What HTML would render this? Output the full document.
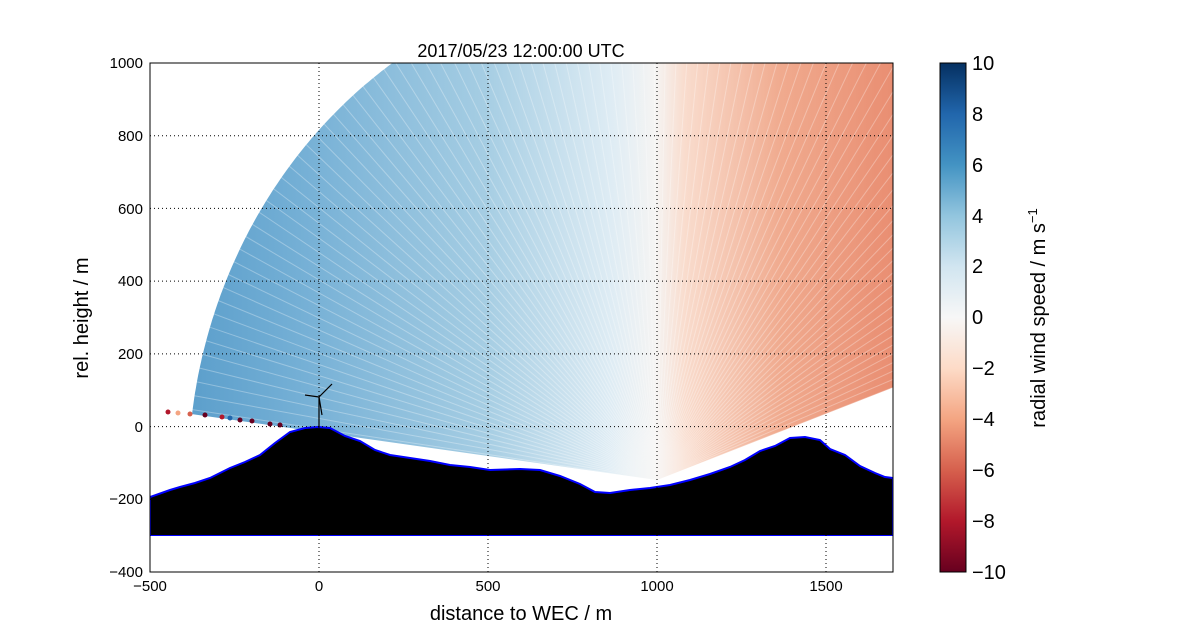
<!DOCTYPE html>
<html><head><meta charset="utf-8"><style>
body{margin:0;background:#fff;}
svg{display:block;font-family:"Liberation Sans",sans-serif;}
</style></head><body>
<svg id="s" width="1200" height="636" viewBox="0 0 1200 636" xmlns="http://www.w3.org/2000/svg">
<defs>
<clipPath id="pc"><rect x="150" y="63" width="743" height="509"/></clipPath>
<linearGradient id="fan" gradientUnits="userSpaceOnUse" x1="150" y1="0" x2="893" y2="0">
<stop offset="0" stop-color="#5399c8"/>
<stop offset="0.2" stop-color="#74afd5"/>
<stop offset="0.45" stop-color="#a5cde3"/>
<stop offset="0.62" stop-color="#deecf4"/>
<stop offset="0.68" stop-color="#f5f4f3"/>
<stop offset="0.72" stop-color="#f9dccd"/>
<stop offset="0.85" stop-color="#f0aa8e"/>
<stop offset="1" stop-color="#e98e72"/>
</linearGradient>
<linearGradient id="cb" x1="0" y1="0" x2="0" y2="1">
<stop offset="0" stop-color="#053061"/>
<stop offset="0.1" stop-color="#2166ac"/>
<stop offset="0.2" stop-color="#4393c3"/>
<stop offset="0.3" stop-color="#92c5de"/>
<stop offset="0.4" stop-color="#d1e5f0"/>
<stop offset="0.5" stop-color="#f7f7f7"/>
<stop offset="0.6" stop-color="#fddbc7"/>
<stop offset="0.7" stop-color="#f4a582"/>
<stop offset="0.8" stop-color="#d6604d"/>
<stop offset="0.9" stop-color="#b2182b"/>
<stop offset="1" stop-color="#67001f"/>
</linearGradient>
</defs>
<g clip-path="url(#pc)">
<path id="wedge" fill="url(#fan)"/>
<g id="rays" stroke="#fff" stroke-width="1" opacity="0.3"></g>
<g fill="#b2182b">
<circle cx="168" cy="412" r="2.5"/><circle cx="178" cy="413" r="2.5" fill="#f4a582"/><circle cx="190" cy="414" r="2.5" fill="#d6604d"/><circle cx="205" cy="415" r="2.5" fill="#67001f"/><circle cx="222" cy="417" r="2.5"/><circle cx="230" cy="418" r="2.5" fill="#2166ac"/><circle cx="240" cy="420" r="2.5" fill="#67001f"/><circle cx="252" cy="421" r="2.5" fill="#67001f"/><circle cx="270" cy="424" r="2.5" fill="#67001f"/><circle cx="280" cy="425" r="2.5" fill="#67001f"/>
</g>
<polygon fill="#000" stroke="#00f" stroke-width="2" points="150,497 170,490 180,487 195,483 210,478 230,468 245,462 260,455 275,443 290,432 305,428 318,427 330,428 345,436 360,441 375,450 390,455 410,458 430,461 450,465 470,467 490,470 520,469 540,470 560,476 580,484 595,492 610,493 630,490 650,488 670,485 690,480 710,474 730,467 745,460 760,451 775,446 790,438 805,437 820,440 830,449 845,455 860,466 875,473 885,477 893,478 893,536 150,536"/>
<rect x="150" y="536" width="743" height="40" fill="#fff"/>
<g stroke="#000" stroke-width="1.2">
<line x1="319" y1="427" x2="319" y2="397"/>
<line x1="319" y1="397" x2="332" y2="384"/>
<line x1="319" y1="397" x2="305" y2="395"/>
<line x1="319" y1="397" x2="322" y2="415"/>
</g>
</g>
<g stroke="#000" stroke-width="1" stroke-dasharray="1,3">
<line x1="319" y1="63" x2="319" y2="572"/><line x1="488" y1="63" x2="488" y2="572"/><line x1="657" y1="63" x2="657" y2="572"/><line x1="826" y1="63" x2="826" y2="572"/>
<line x1="150" y1="135.7" x2="893" y2="135.7"/><line x1="150" y1="208.4" x2="893" y2="208.4"/><line x1="150" y1="281.1" x2="893" y2="281.1"/><line x1="150" y1="353.9" x2="893" y2="353.9"/><line x1="150" y1="426.6" x2="893" y2="426.6"/><line x1="150" y1="499.3" x2="893" y2="499.3"/>
</g>
<rect x="150" y="63" width="743" height="509" fill="none" stroke="#000" stroke-width="1"/>
<g font-size="15" text-anchor="end">
<text x="143" y="68">1000</text><text x="143" y="141">800</text><text x="143" y="214">600</text><text x="143" y="286">400</text><text x="143" y="359">200</text><text x="143" y="432">0</text><text x="143" y="504">−200</text><text x="143" y="577">−400</text>
</g>
<g font-size="15" text-anchor="middle">
<text x="150" y="591">−500</text><text x="319" y="591">0</text><text x="488" y="591">500</text><text x="657" y="591">1000</text><text x="826" y="591">1500</text>
</g>
<text x="521" y="57" font-size="18" text-anchor="middle">2017/05/23 12:00:00 UTC</text>
<text x="521" y="620" font-size="20" text-anchor="middle">distance to WEC / m</text>
<text transform="translate(88,318) rotate(-90)" font-size="20" text-anchor="middle">rel. height / m</text>
<rect x="940" y="63" width="26" height="509" fill="url(#cb)" stroke="#000"/>
<g font-size="20">
<text x="972" y="70">10</text><text x="972" y="121">8</text><text x="972" y="172">6</text><text x="972" y="223">4</text><text x="972" y="273">2</text><text x="972" y="324">0</text><text x="972" y="375">−2</text><text x="972" y="426">−4</text><text x="972" y="477">−6</text><text x="972" y="528">−8</text><text x="972" y="579">−10</text>
</g>
<text transform="translate(1045,318) rotate(-90)" font-size="20" text-anchor="middle">radial wind speed / m s<tspan font-size="13" dy="-8">−1</tspan></text>
</svg>
<script>
var cx=657,cy=480,rx=469,ry=505,d="M"+cx+","+cy;
for(var a=20;a<=172.5;a+=0.5){var t=a*Math.PI/180;d+=" L"+(cx+rx*Math.cos(t)).toFixed(1)+","+(cy-ry*Math.sin(t)).toFixed(1);}
d+=" Z";document.getElementById("wedge").setAttribute("d",d);
var g=document.getElementById("rays"),h="";
for(var a=20;a<=172.5;a+=1.6){var t=a*Math.PI/180;h+='<line x1="'+cx+'" y1="'+cy+'" x2="'+(cx+rx*1.02*Math.cos(t)).toFixed(1)+'" y2="'+(cy-ry*1.02*Math.sin(t)).toFixed(1)+'"/>';}
g.innerHTML=h;
</script>
</body></html>
